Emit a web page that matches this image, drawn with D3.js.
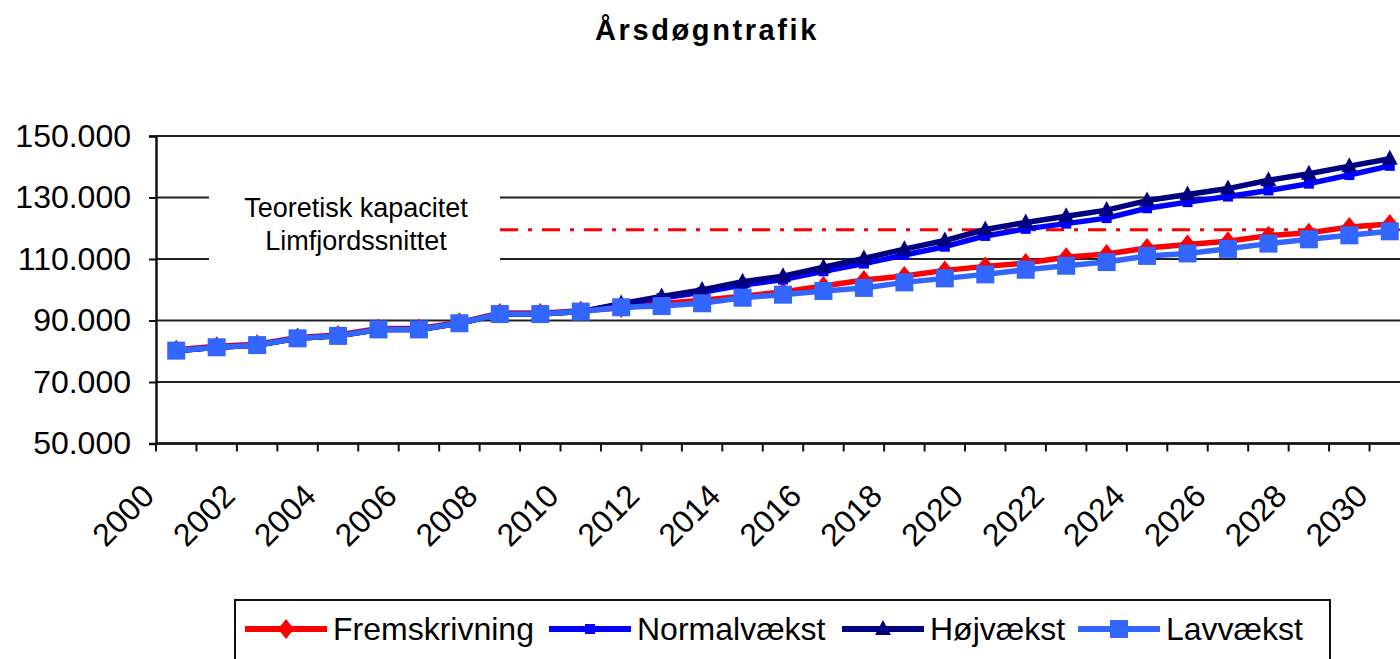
<!DOCTYPE html>
<html>
<head>
<meta charset="utf-8">
<script src="https://cdn.jsdelivr.net/npm/d3@7"></script>
<style>
  body { margin: 0; background: #fff; }
  svg { display: block; font-family: "Liberation Sans", Arial, sans-serif; }
</style>
</head>
<body>
<div id="chart"></div>
<script>
// categories
const years = [2000, 2001, 2002, 2003, 2004, 2005, 2006, 2007, 2008, 2009, 2010,
  2011, 2012, 2013, 2014, 2015, 2016, 2017, 2018, 2019, 2020,
  2021, 2022, 2023, 2024, 2025, 2026, 2027, 2028, 2029, 2030];

// series values (Årsdøgntrafik)
const fremskrivning = [80500, 81600, 82300, 84500, 85300, 87400, 87400, 89400, 92400, 92400, 93200,
  94100, 95500, 96600, 97900, 99300, 101200, 103200, 104500, 106300, 107600,
  108700, 110600, 111600, 113600, 114700, 115800, 117600, 118500, 120400, 121400];
const normalvaekst = [80200, 81300, 82000, 84200, 85000, 87100, 87100, 89100, 92100, 92100, 92900,
  95300, 97300, 99200, 101500, 103300, 106000, 108500, 111300, 114000, 117500,
  119800, 121500, 123300, 126500, 128500, 130300, 132300, 134500, 137300, 140300];
const hoejvaekst = [80200, 81300, 82000, 84200, 85000, 87100, 87100, 89100, 92100, 92100, 92900,
  95500, 97800, 99900, 102600, 104400, 107300, 110200, 113200, 116000, 119600,
  121900, 123900, 125900, 129000, 131000, 132900, 135600, 137700, 140200, 142600];
const lavvaekst = [80200, 81300, 82000, 84200, 85000, 87100, 87100, 89100, 92100, 92100, 92900,
  94300, 94700, 95600, 97400, 98400, 99600, 100600, 102400, 103700, 105000,
  106500, 107800, 109000, 111000, 111800, 113300, 115000, 116400, 117700, 119000];

// y ticks and capacity line
const yTicks = [50000, 70000, 90000, 110000, 130000, 150000];
const kapacitet = 119500;
const kapacitetLabel = ["Teoretisk kapacitet", "Limfjordssnittet"];

const W = 1400, H = 659;
const plotLeft = 156, plotRight = 1410, plotTop = 136, plotBottom = 443.5;

const svg = d3.select('#chart').append('svg')
  .attr('width', W).attr('height', H);
svg.append('rect').attr('width', W).attr('height', H).attr('fill', '#fff');

const x = d3.scaleBand().domain(years).range([plotLeft, plotRight]).padding(0);
const y = d3.scaleLinear().domain([50000, 150000]).range([plotBottom, plotTop]);
const bw = x.bandwidth();
const fmt = d3.formatLocale({ decimal: ",", thousands: ".", grouping: [3], currency: ["", " kr"] }).format(",");

// title
svg.append('text')
  .attr('x', 707).attr('y', 40)
  .attr('text-anchor', 'middle')
  .style('font-weight', 'bold')
  .style('font-size', '29px')
  .style('letter-spacing', '2.6px')
  .text('Årsdøgntrafik');

// gridlines
svg.append('g')
  .selectAll('line')
  .data(yTicks)
  .enter().append('line')
  .attr('x1', plotLeft).attr('x2', plotRight)
  .attr('y1', d => y(d)).attr('y2', d => y(d))
  .attr('stroke', '#222').attr('stroke-width', 2);

// capacity line
svg.append('line')
  .attr('x1', 500).attr('x2', plotRight)
  .attr('y1', y(kapacitet)).attr('y2', y(kapacitet))
  .attr('stroke', '#ff0000').attr('stroke-width', 3)
  .attr('stroke-dasharray', '18,10,4,10');

// label box hides the gridlines behind it
svg.append('rect')
  .attr('x', 209).attr('y', 180).attr('width', 291).attr('height', 88)
  .attr('fill', '#fff');
svg.append('g')
  .selectAll('text')
  .data(kapacitetLabel)
  .enter().append('text')
  .attr('x', 356)
  .attr('y', (d, i) => 217 + i * 33)
  .attr('text-anchor', 'middle')
  .style('font-size', '27px')
  .text(d => d);

// y axis
const yAxis = svg.append('g')
  .attr('transform', `translate(${plotLeft},0)`)
  .call(d3.axisLeft(y).tickValues(yTicks).tickSize(7).tickPadding(18).tickFormat(fmt));
yAxis.select('.domain').attr('stroke', '#111').attr('stroke-width', 2.5);
yAxis.selectAll('.tick line').attr('stroke', '#111').attr('stroke-width', 2);
yAxis.selectAll('.tick text')
  .attr('fill', '#000')
  .style('font-size', '32px')
  .style('font-family', '"Liberation Sans", Arial, sans-serif');

// x axis: ticks on category boundaries
const xg = svg.append('g');
xg.append('line')
  .attr('x1', plotLeft).attr('x2', plotRight)
  .attr('y1', plotBottom).attr('y2', plotBottom)
  .attr('stroke', '#111').attr('stroke-width', 2.5);
xg.selectAll('line.tick')
  .data(years.concat([null]))
  .enter().append('line')
  .attr('class', 'tick')
  .attr('x1', d => d === null ? plotRight : x(d))
  .attr('x2', d => d === null ? plotRight : x(d))
  .attr('y1', plotBottom).attr('y2', plotBottom + 8)
  .attr('stroke', '#111').attr('stroke-width', 2);
xg.selectAll('text')
  .data(years.filter(d => d % 2 === 0))
  .enter().append('text')
  .attr('transform', d => `translate(${x(d)},498) rotate(-45)`)
  .attr('text-anchor', 'end')
  .style('font-size', '32px')
  .text(d => d);

// series
const series = [
  { name: 'Fremskrivning', values: fremskrivning, color: '#ff0000', marker: 'diamond' },
  { name: 'Normalvækst', values: normalvaekst, color: '#0000ff', marker: 'smallsquare' },
  { name: 'Højvækst', values: hoejvaekst, color: '#000080', marker: 'triangle' },
  { name: 'Lavvækst', values: lavvaekst, color: '#3366ff', marker: 'square' }
];

function markerPath(type) {
  if (type === 'diamond') return 'M0,-10L8,0L0,10L-8,0Z';
  if (type === 'smallsquare') return 'M-5,-5H5V5H-5Z';
  if (type === 'triangle') return 'M0,-9L8,6H-8Z';
  return 'M-9,-9H9V9H-9Z';
}

const line = d3.line()
  .x((d, i) => x(years[i]) + bw / 2)
  .y(d => y(d));

series.forEach(s => {
  const g = svg.append('g');
  g.append('path')
    .attr('d', line(s.values))
    .attr('fill', 'none')
    .attr('stroke', s.color)
    .attr('stroke-width', 5.5)
    .attr('stroke-linejoin', 'round');
  g.selectAll('path.m')
    .data(s.values)
    .enter().append('path')
    .attr('class', 'm')
    .attr('d', markerPath(s.marker))
    .attr('transform', (d, i) => `translate(${x(years[i]) + bw / 2},${y(d)})`)
    .attr('fill', s.color);
});

// legend
const legendX = [245, 549, 842, 1078];
const legend = svg.append('g');
legend.append('rect')
  .attr('x', 235).attr('y', 600).attr('width', 1095).attr('height', 80)
  .attr('fill', '#fff').attr('stroke', '#111').attr('stroke-width', 2);
const item = legend.selectAll('g.item')
  .data(series)
  .enter().append('g')
  .attr('class', 'item')
  .attr('transform', (d, i) => `translate(${legendX[i]},629)`);
item.append('line')
  .attr('x1', 0).attr('x2', 82).attr('y1', 0).attr('y2', 0)
  .attr('stroke', d => d.color).attr('stroke-width', 6);
item.append('path')
  .attr('d', d => markerPath(d.marker))
  .attr('transform', 'translate(41,0)')
  .attr('fill', d => d.color);
item.append('text')
  .attr('x', 88).attr('y', 11)
  .style('font-size', '32px')
  .text(d => d.name);
</script>
</body>
</html>
